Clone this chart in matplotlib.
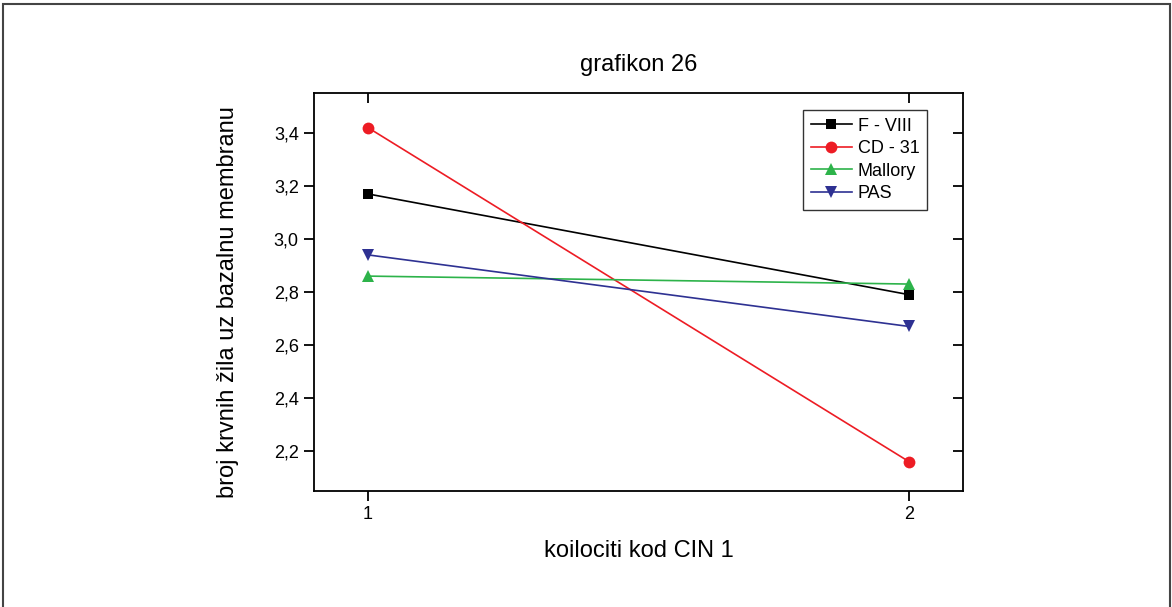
import matplotlib
matplotlib.use("Agg")
import matplotlib.pyplot as plt
from matplotlib.patches import Rectangle
from matplotlib.ticker import FuncFormatter

plt.rcParams['font.family'] = ['Liberation Sans', 'DejaVu Sans']

x_vals = [1, 2]
series_names = ["F - VIII", "CD - 31", "Mallory", "PAS"]
f_viii = [3.17, 2.79]
cd_31 = [3.42, 2.16]
mallory = [2.86, 2.83]
pas = [2.94, 2.67]
y_ticks = [2.2, 2.4, 2.6, 2.8, 3.0, 3.2, 3.4]
title = "grafikon 26"
xlabel = "koilociti kod CIN 1"
ylabel = "broj krvnih žila uz bazalnu membranu"

fig = plt.figure(figsize=(11.72, 6.07), dpi=100)
fig.patches.append(Rectangle((3/1172, -0.01), (1170-3)/1172, 1 - 4/607 + 0.01,
                             transform=fig.transFigure, fill=False,
                             edgecolor='#444444', linewidth=1.5))
ax = fig.add_axes([314/1172, 1 - 491/607, (963-314)/1172, (491-93)/607])

styles = [
    (f_viii, '#000000', 's', 7.5),
    (cd_31, '#ED1C24', 'o', 8.5),
    (mallory, '#2DB34A', '^', 9),
    (pas, '#2E3192', 'v', 9),
]
for name, (vals, col, mk, ms) in zip(series_names, styles):
    ax.plot(x_vals, vals, color=col, marker=mk, markersize=ms, linewidth=1.2,
            markeredgewidth=0, label=name)

ax.set_xlim(0.9, 2.1)
ax.set_ylim(2.049, 3.551)
ax.set_xticks(x_vals)
ax.set_xticklabels([str(v) for v in x_vals])
ax.set_yticks(y_ticks)
ax.yaxis.set_major_formatter(FuncFormatter(lambda v, p: f"{v:.1f}".replace('.', ',')))

for s in ax.spines.values():
    s.set_linewidth(1.3)
ax.tick_params(axis='both', which='major', labelsize=13, width=1.3, length=7,
               direction='out', pad=4)
ax2 = ax.secondary_xaxis('top')
ax2.set_xticks(x_vals)
ax2.set_xticklabels([])
ax2.tick_params(direction='in', length=7, width=1.3)
ax2.spines['top'].set_visible(False)
ax3 = ax.secondary_yaxis('right')
ax3.set_yticks(y_ticks)
ax3.set_yticklabels([])
ax3.tick_params(direction='in', length=7, width=1.3)
ax3.spines['right'].set_visible(False)

ax.set_title(title, fontsize=17, pad=16)
ax.set_xlabel(xlabel, fontsize=17, labelpad=12)
ax.set_ylabel(ylabel, fontsize=17)
ax.yaxis.set_label_coords(-0.116, 0.475)

leg = ax.legend(loc='upper left', bbox_to_anchor=(0.7535, 0.957), borderaxespad=0,
                frameon=True, fancybox=False, edgecolor='black', fontsize=13,
                handlelength=2.3, handletextpad=0.3, labelspacing=0.3,
                borderpad=0.42)
leg.get_frame().set_linewidth(1.0)

fig.savefig("out.png", dpi=100)
